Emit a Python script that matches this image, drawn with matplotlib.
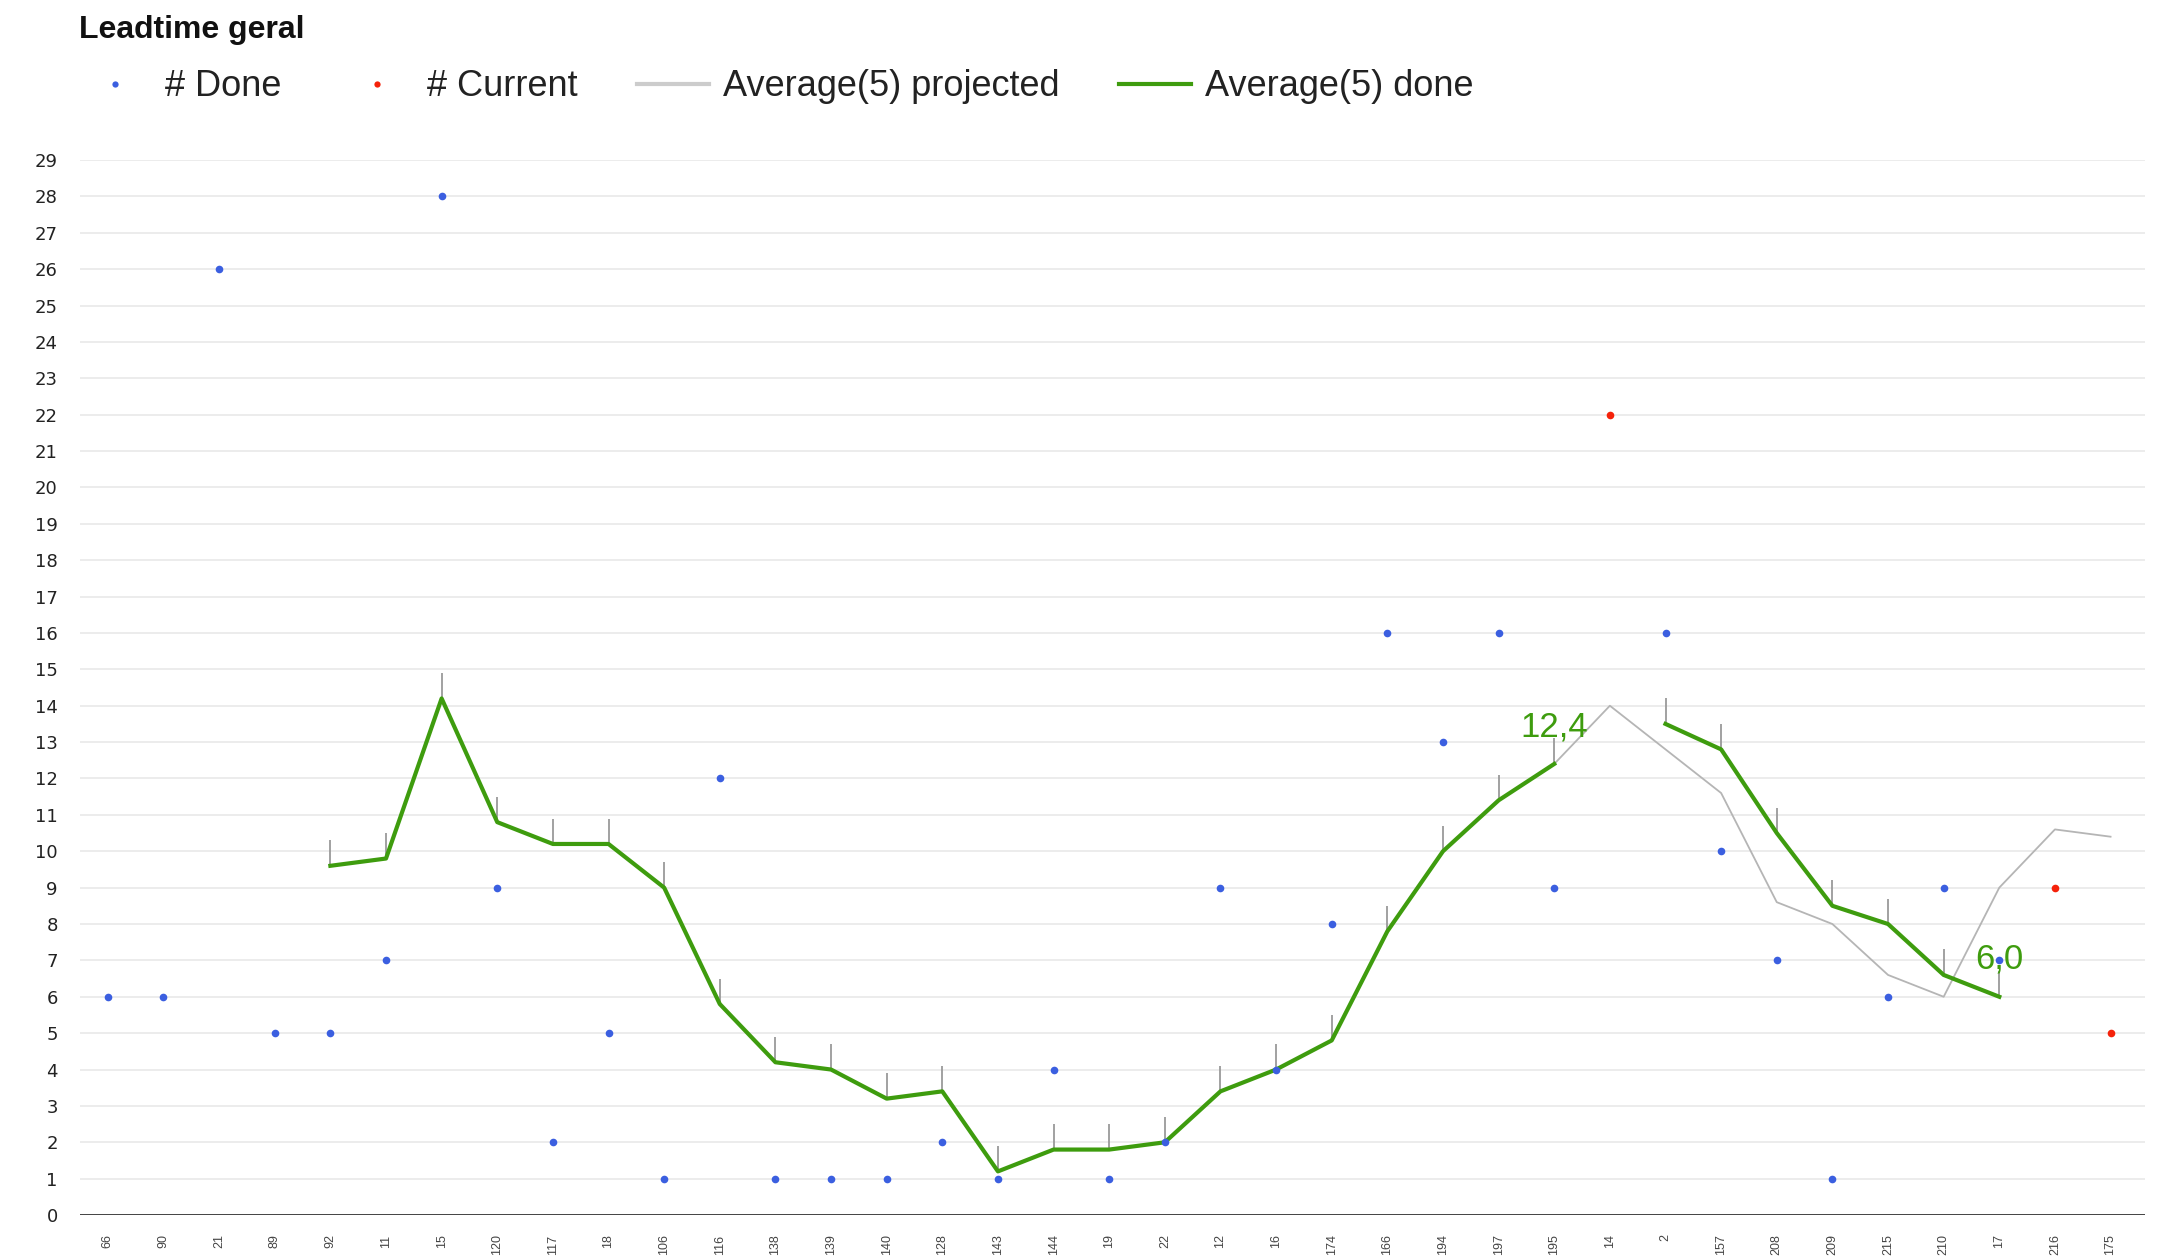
import numpy as np
import matplotlib
matplotlib.use('Agg')
import matplotlib.pyplot as plt
from matplotlib.lines import Line2D

plt.rcParams['font.family'] = ['Liberation Sans', 'DejaVu Sans']

nan = np.nan

# ids das tarefas (eixo x)
labels = ['66', '90', '21', '89', '92', '11', '15', '120', '117', '18', '106', '116',
          '138', '139', '140', '128', '143', '144', '19', '22', '12', '16', '174', '166',
          '194', '197', '195', '14', '2', '157', '208', '209', '215', '210', '17', '216', '175']

done = [6, 6, 26, 5, 5, 7, 28, 9, 2, 5, 1, 12, 1, 1, 1, 2, 1, 4, 1, 2, 9, 4, 8, 16,
        13, 16, 9, nan, 16, 10, 7, 1, 6, 9, 7, nan, nan]

current = [nan] * 27 + [22] + [nan] * 7 + [9, 5]

avg_done = [nan] * 4 + [9.6, 9.8, 14.2, 10.8, 10.2, 10.2, 9.0, 5.8, 4.2, 4.0, 3.2, 3.4,
                        1.2, 1.8, 1.8, 2.0, 3.4, 4.0, 4.8, 7.8, 10.0, 11.4, 12.4,
                        nan, 13.5, 12.8, 10.5, 8.5, 8.0, 6.6, 6.0, nan, nan]

avg_proj = [nan] * 4 + [9.6, 9.8, 14.2, 10.8, 10.2, 10.2, 9.0, 5.8, 4.2, 4.0, 3.2, 3.4,
                        1.2, 1.8, 1.8, 2.0, 3.4, 4.0, 4.8, 7.8, 10.0, 11.4, 12.4,
                        14.0, 12.8, 11.6, 8.6, 8.0, 6.6, 6.0, 9.0, 10.6, 10.4]

x = np.arange(len(labels))
done = np.array(done, dtype=float)
current = np.array(current, dtype=float)
avg_done = np.array(avg_done, dtype=float)
avg_proj = np.array(avg_proj, dtype=float)

blue = '#3b5fe0'
red = '#f5220a'
green = '#3e9c0e'
grey = '#b5b5b5'

fig = plt.figure(figsize=(21.63, 12.56), dpi=100)
ax = fig.add_axes([0.037, 0.0326, 0.9547, 0.84])

ax.plot(x, avg_proj, color=grey, lw=1.3, zorder=2)
# marcas verticais acima da media
ok = ~np.isnan(avg_done)
ax.vlines(x[ok], avg_done[ok], avg_done[ok] + 0.7, color='#9a9a9a', lw=1.3, zorder=2)
ax.plot(x, avg_done, color=green, lw=3, zorder=3)
ax.plot(x, done, 'o', color=blue, ms=5.5, mec='none', zorder=4, clip_on=False)
ax.plot(x, current, 'o', color=red, ms=5.5, mec='none', zorder=4, clip_on=False)

# rotulos no fim de cada trecho
for i in [26, 34]:
    ax.annotate(f'{avg_done[i]:.1f}'.replace('.', ','), xy=(x[i], avg_done[i]),
                xytext=(0, 20), textcoords='offset points', ha='center', va='baseline',
                fontsize=25, color=green, zorder=5)

ax.set_xlim(-0.5, 36.62)
ax.set_ylim(0, 29)
ax.set_yticks(range(30))
ax.set_yticklabels([str(v) for v in range(30)], family='DejaVu Sans', fontsize=13, color='#222222')
ax.set_xticks(x)
ax.set_xticklabels(labels, rotation=90, fontsize=9, color='#444444')
ax.tick_params(axis='y', length=0, pad=16)
ax.tick_params(axis='x', length=0, pad=14)
ax.yaxis.grid(True, color='#ebebeb', lw=1.3)
ax.set_axisbelow(True)
for s in ax.spines.values():
    s.set_visible(False)
ax.axhline(0, color='#333333', lw=2, zorder=1)

fig.text(0.0365, 0.976, 'Leadtime geral', fontsize=23, fontweight='bold',
         color='#111111', va='center', ha='left')

handles = [
    Line2D([], [], ls='none', marker='o', color=blue, ms=4.5, mec='none'),
    Line2D([], [], ls='none', marker='o', color=red, ms=4.5, mec='none'),
    Line2D([], [], color='#cccccc', lw=3),
    Line2D([], [], color=green, lw=3),
]
fig.legend(handles, ['# Done', '# Current', 'Average(5) projected', 'Average(5) done'],
           loc='center left', bbox_to_anchor=(0.0365, 0.931), ncol=4, frameon=False,
           fontsize=26, handlelength=2.0, handletextpad=0.38, columnspacing=1.65,
           borderpad=0, borderaxespad=0, labelcolor='#222222')

fig.savefig('out.png', dpi=100)
